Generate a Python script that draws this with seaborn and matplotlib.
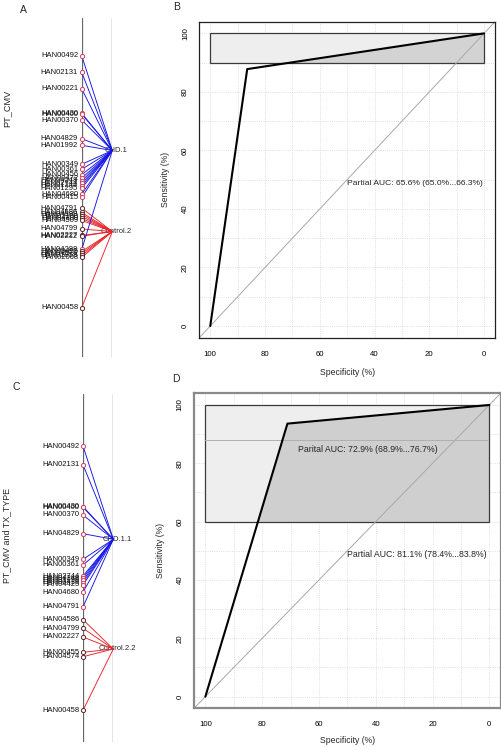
import numpy as np
import matplotlib
matplotlib.use("Agg")
import matplotlib.pyplot as plt
import matplotlib.patches as mpatches
import seaborn as sns

# ── panel A: PT_CMV gene -> class network ─────────────────────────────────────
a_genes = ["HAN00492", "HAN02131", "HAN00221", "HAN00430", "HAN00400", "HAN00370",
           "HAN04829", "HAN01992", "HAN00349", "HAN00361", "HAN00456", "HAN00472",
           "HAN04248", "HAN02744", "HAN01244", "HAN01295", "HAN04680", "HAN00415",
           "HAN04791", "HAN04586", "HAN04588", "HAN02160", "HAN04300", "HAN04509",
           "HAN04799", "HAN02227", "HAN02212", "HAN04288", "HAN00455", "HAN04574",
           "HAN01958", "HAN02068", "HAN00458"]
a_pos = [55.7, 72.3, 88.7, 113.3, 114.0, 120.0, 138.7, 145.3, 164.3, 169.3, 174.8, 178.3,
         181.0, 183.5, 185.8, 188.2, 194.0, 197.5, 208.0, 212.5, 214.5, 216.5, 218.5, 220.5,
         229.0, 235.5, 236.2, 249.5, 251.5, 253.5, 255.5, 257.5, 307.7]
a_link = [0] * 18 + [1] * 9 + [0] + [1] * 5
a_classes = ["CHD.1", "Control.2"]
a_class_pos = [150.5, 231.5]

# ── panel C: PT_CMV and TX_TYPE network ───────────────────────────────────────
c_genes = ["HAN00492", "HAN02131", "HAN00430", "HAN00400", "HAN00370", "HAN04829",
           "HAN00349", "HAN00361", "HAN02744", "HAN04248", "HAN01295", "HAN00415",
           "HAN04425", "HAN04680", "HAN04791", "HAN04586", "HAN04799", "HAN02227",
           "HAN00455", "HAN04574", "HAN00458"]
c_pos = [446.0, 464.7, 506.6, 507.3, 515.0, 533.7, 559.3, 565.0, 576.0, 578.0, 580.3,
         582.6, 585.0, 592.0, 607.0, 619.7, 628.3, 637.0, 652.3, 656.7, 710.3]
c_link = [0] * 15 + [1] * 6
c_classes = ["CHD.1.1", "Control.2.2"]
c_class_pos = [539.3, 649.0]

# ── panel B / D: ROC curves ───────────────────────────────────────────────────
b_spec = [100, 86.5, 0]
b_sens = [0, 87.8, 100]
b_focus = [90, 100]
b_text = "Partial AUC: 65.6% (65.0%...66.3%)"

d_spec = [100, 71.1, 0]
d_sens = [0, 93.6, 100]
d_focus = [60, 100]
d_ref_spec = [100, 1]
d_ref_sens = [88, 88]
d_text_focus = "Parital AUC: 72.9% (68.9%...76.7%)"
d_text = "Partial AUC: 81.1% (78.4%...83.8%)"

EDGE_COL = {0: "#1414E6", 1: "#E8232A"}
NODE_COL = {0: "#D0405E", 1: "#5A2626"}

W, H = 502, 747

sns.set_style("white")
plt.rcParams["font.family"] = ["Liberation Sans", "DejaVu Sans"]

fig = plt.figure(figsize=(W / 100, H / 100), dpi=100)


def px_axes(left, right, top, bottom):
    return fig.add_axes([left / W, 1 - bottom / H, (right - left) / W, (bottom - top) / H])


def draw_network(ax, genes, pos, link, classes, class_pos, top, bottom):
    ax.set_xlim(0, 1)
    ax.set_ylim(bottom, top)
    ax.axis("off")
    ax.axvline(0, color="#666666", lw=0.9, zorder=1)
    ax.axvline(1, color="#333333", lw=0.9, zorder=1)
    for name, cy in zip(classes, class_pos):
        ax.text(1.12, cy, name, fontsize=5.5, ha="center", va="center", zorder=1)
    for y, k in zip(pos, link):
        ax.plot([0, 1], [y, class_pos[k]], color=EDGE_COL[k], lw=0.65, zorder=2,
                clip_on=False)
    for g, y, k in zip(genes, pos, link):
        ax.plot([0], [y], marker="o", ms=3.0, mfc="white", mec=NODE_COL[k], mew=0.7,
                ls="none", zorder=4, clip_on=False)
        ax.annotate(g, (0, y), xytext=(-2.6, 0), textcoords="offset points",
                    ha="right", va="center", fontsize=5.5, color="#111111")


def draw_roc(ax, spec, sens, focus, frame_col, frame_lw, poly_col):
    ax.set_xlim(104, -4)
    ax.set_ylim(-4, 104)
    ax.set_xticks(np.arange(0, 101, 20))
    ax.set_yticks(np.arange(0, 101, 20))
    ax.set_xticks(np.arange(0, 101, 10), minor=True)
    ax.set_yticks(np.arange(0, 101, 10), minor=True)
    ax.grid(which="both", linestyle=":", color="#D4D4D4", lw=0.6)
    ax.set_axisbelow(True)

    # max partial area + partial AUC polygon
    box = mpatches.Rectangle((0, focus[0]), 100, focus[1] - focus[0],
                             facecolor="#EEEEEE", edgecolor="none", zorder=1.2)
    ax.add_patch(box)
    poly = ax.fill_betweenx(sens, spec, 0, color=poly_col, lw=0, zorder=1.4)
    clip = mpatches.Rectangle((0, focus[0]), 100, focus[1] - focus[0],
                              transform=ax.transData)
    poly.set_clip_path(clip)
    ax.add_patch(mpatches.Rectangle((0, focus[0]), 100, focus[1] - focus[0],
                                    facecolor="none", edgecolor="#3A3A3A", lw=0.9,
                                    zorder=1.6))

    ax.axline((100, 0), (0, 100), color="#A8A8A8", lw=0.7, zorder=2)
    sns.lineplot(x=spec, y=sens, sort=False, estimator=None, color="black",
                 lw=1.5, ax=ax, zorder=3)

    for s in ax.spines.values():
        s.set_visible(True)
        s.set_color(frame_col)
        s.set_linewidth(frame_lw)
    ax.tick_params(which="major", direction="out", length=3.5, width=0.6,
                   colors="#333333", labelcolor="black", labelsize=5.6)
    ax.tick_params(axis="x", pad=6)
    ax.tick_params(axis="y", pad=4)
    ax.tick_params(which="minor", length=0)
    for lbl in ax.get_yticklabels():
        lbl.set_rotation(90)
        lbl.set_va("center")
    ax.set_xlabel("Specificity (%)", fontsize=6.2)
    ax.set_ylabel("Sensitivity (%)", fontsize=6.2)


# A
ax_a = px_axes(81.7, 112.3, 18, 357)
draw_network(ax_a, a_genes, a_pos, a_link, a_classes, a_class_pos, 18, 357)

# C
ax_c = px_axes(83, 113.3, 394, 742)
draw_network(ax_c, c_genes, c_pos, c_link, c_classes, c_class_pos, 394, 742)

# B
ax_b = px_axes(199.3, 495, 21.7, 337.7)
draw_roc(ax_b, b_spec, b_sens, b_focus, "#222222", 0.9, "#D3D3D3")
ax_b.text(50, 48.7, b_text, fontsize=6.1, ha="left", va="center", zorder=4)
ax_b.xaxis.set_label_coords(0.5, -0.096)
ax_b.yaxis.set_label_coords(-0.099, 0.5)

# D
ax_d = px_axes(194, 500.7, 393.3, 708.3)
draw_roc(ax_d, d_spec, d_sens, d_focus, "#8A8A8A", 1.6, "#CFCFCF")
ax_d.plot(d_ref_spec, d_ref_sens, color="#B0B0B0", lw=0.7, zorder=2.5)
ax_d.text(67.3, 84.6, d_text_focus, fontsize=6.3, ha="left", va="center", zorder=4)
ax_d.text(50, 48.7, d_text, fontsize=6.3, ha="left", va="center", zorder=4)
ax_d.xaxis.set_label_coords(0.5, -0.088)
ax_d.yaxis.set_label_coords(-0.095, 0.5)

# side titles and panel letters
fig.text(7 / W, 1 - 108.3 / H, "PT_CMV", rotation=90, fontsize=6.6, ha="center", va="center")
fig.text(7 / W, 1 - 535.7 / H, "PT_CMV and TX_TYPE", rotation=90, fontsize=6.4,
         ha="center", va="center")
for letter, x, y in [("A", 23, 10.3), ("B", 177, 6.7), ("C", 16, 386.7), ("D", 176, 379)]:
    fig.text(x / W, 1 - y / H, letter, fontsize=7.5, ha="center", va="center")

fig.savefig("out.png", dpi=100, facecolor="white")
plt.close(fig)
